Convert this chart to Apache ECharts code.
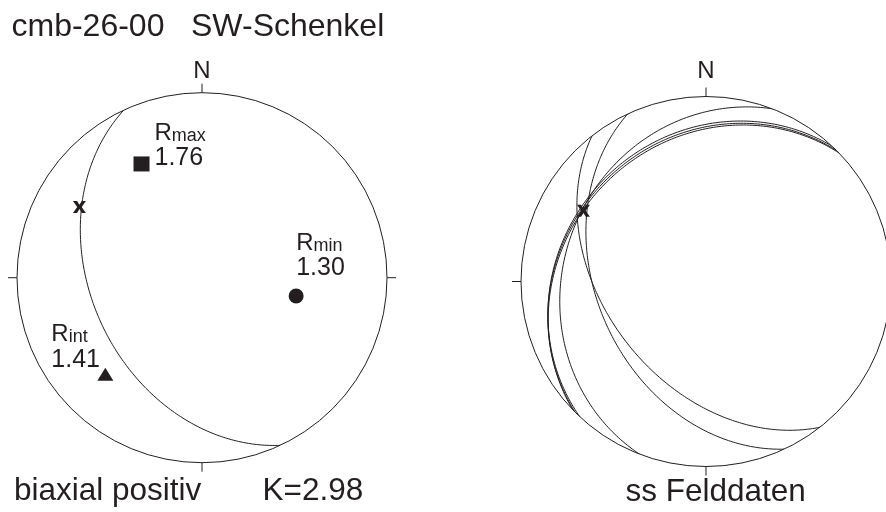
<!DOCTYPE html>
<html><head><meta charset="utf-8">
<script src="https://cdn.jsdelivr.net/npm/echarts@6/dist/echarts.min.js"></script>
<style>html,body{margin:0;padding:0;background:#fff}#c{width:886px;height:512px}</style>
</head><body><div id="c"></div>
<script>
// ---------------- data ----------------
const titleLeft = 'cmb-26-00';
const titleRight = 'SW-Schenkel';
const northLabel = 'N';
const leftCaption = 'biaxial positiv';
const kLabel = 'K=2.98';
const rightCaption = 'ss Felddaten';

// principal axes (left net): subscript, value, trend, plunge
const axisSubs = ['max', 'int', 'min'];
const axisValues = ['1.76', '1.41', '1.30'];
const axisTrend = [332, 225, 101];
const axisPlunge = [31, 27, 47];

// fold axis (x) shown in both nets
const foldTrend = [300];
const foldPlunge = [24.5];

// great circle on the left net (dip direction / dip)
const leftPlaneDipDir = [245];
const leftPlaneDip = [40];

// ss field data (right net): dip direction / dip
const ssDipDir = [232, 245, 291, 313, 315, 316];
const ssDip = [45, 41, 24, 23, 24, 25];

// ---------------- projection helpers (lower hemisphere, equal area) ----------------
const D = Math.PI / 180;
function radiusOf(plunge) { return Math.SQRT2 * Math.sin((90 - plunge) / 2 * D); }
function greatCircle(dipDir, dip) {
  const st = (dipDir - 90) * D, dd = dipDir * D, dp = dip * D;
  const s = [Math.cos(st), Math.sin(st), 0];
  const d = [Math.cos(dp) * Math.cos(dd), Math.cos(dp) * Math.sin(dd), Math.sin(dp)];
  const pts = [];
  for (let t = 0; t <= 180; t += 1) {
    const c = Math.cos(t * D), si = Math.sin(t * D);
    const v = [c * s[0] + si * d[0], c * s[1] + si * d[1], c * s[2] + si * d[2]];
    const pl = Math.asin(Math.max(-1, Math.min(1, v[2]))) / D;
    let tr = Math.atan2(v[1], v[0]) / D; if (tr < 0) tr += 360;
    pts.push([radiusOf(pl), tr]);
  }
  return pts;
}

// ---------------- styles ----------------
const INK = '#231f20';
const FONT = '"Liberation Sans", Arial, Helvetica, sans-serif';
const markerStyles = [
  { symbol: 'rect', symbolSize: [16, 15], offset: [13, -19] },
  { symbol: 'triangle', symbolSize: [16, 13], offset: [-54, -28] },
  { symbol: 'circle', symbolSize: 15, offset: [0, -41] }
];
const crossPath = 'path://M0,0L3.2,0L5,3.2L6.8,0L10,0L6.7,5L10,10L6.8,10L5,6.8L3.2,10L0,10L3.3,5Z';

function angleAxis(idx, margin) {
  return {
    polarIndex: idx, type: 'value', min: 0, max: 360, interval: 90,
    startAngle: 90, clockwise: true,
    axisLine: { show: true, lineStyle: { color: INK, width: 1 } },
    axisTick: { show: true, inside: false, length: 9, lineStyle: { color: INK, width: 1 } },
    axisLabel: { show: true, margin: margin, fontFamily: FONT, fontSize: 24, color: INK,
      formatter: v => (v === 0 ? northLabel : '') },
    splitLine: { show: false }
  };
}
function radiusAxis(idx) {
  return { polarIndex: idx, type: 'value', min: 0, max: 1, show: false,
    splitLine: { show: false }, axisLine: { show: false }, axisLabel: { show: false }, axisTick: { show: false } };
}
function lineSeries(idx, dipDirs, dips) {
  return dipDirs.map((dd, i) => ({
    type: 'line', coordinateSystem: 'polar', polarIndex: idx,
    data: greatCircle(dd, dips[i]), symbol: 'none', smooth: false, silent: true,
    lineStyle: { color: INK, width: 1 }, z: 2
  }));
}
function foldSeries(idx) {
  return {
    type: 'scatter', coordinateSystem: 'polar', polarIndex: idx, silent: true,
    symbol: crossPath, symbolSize: [13, 12], itemStyle: { color: INK, opacity: 1 }, z: 5,
    data: foldTrend.map((t, i) => [radiusOf(foldPlunge[i]), t])
  };
}

const axisData = axisTrend.map((t, i) => ({
  value: [radiusOf(axisPlunge[i]), t],
  symbol: markerStyles[i].symbol,
  symbolSize: markerStyles[i].symbolSize,
  label: {
    show: true, position: 'inside', align: 'left', verticalAlign: 'middle',
    offset: markerStyles[i].offset,
    formatter: '{r|R}{s|' + axisSubs[i] + '}\n{n|' + axisValues[i] + '}',
    rich: {
      r: { fontFamily: FONT, fontSize: 24, lineHeight: 27, color: INK, verticalAlign: 'bottom' },
      s: { fontFamily: FONT, fontSize: 18, lineHeight: 23, color: INK, verticalAlign: 'bottom' },
      n: { fontFamily: FONT, fontSize: 25, lineHeight: 27, color: INK }
    }
  }
}));

function gtext(str, x, y, size) {
  return { type: 'text', x: x, y: y, silent: true,
    style: { text: str, font: size + 'px ' + FONT, fill: INK, textAlign: 'left', align: 'left',
      textVerticalAlign: 'middle', verticalAlign: 'middle' } };
}

const option = {
  backgroundColor: '#ffffff',
  animation: false,
  polar: [
    { center: [202, 277.7], radius: 185 },
    { center: [706, 281.5], radius: 185 }
  ],
  angleAxis: [angleAxis(0, 9), angleAxis(1, 13)],
  radiusAxis: [radiusAxis(0), radiusAxis(1)],
  series: [
    ...lineSeries(0, leftPlaneDipDir, leftPlaneDip),
    ...lineSeries(1, ssDipDir, ssDip),
    foldSeries(0), foldSeries(1),
    { type: 'scatter', coordinateSystem: 'polar', polarIndex: 0, silent: true,
      itemStyle: { color: INK, opacity: 1 }, z: 4, data: axisData }
  ],
  graphic: [
    gtext(titleLeft, 11.5, 27.5, 32),
    gtext(titleRight, 191, 27.5, 32),
    gtext(leftCaption, 14, 491, 31.5),
    gtext(kLabel, 262.5, 491, 31.5),
    gtext(rightCaption, 625.5, 492, 31.5)
  ]
};

const chart = echarts.init(document.getElementById('c'), null, { renderer: 'canvas' });
chart.setOption(option);
</script>
</body></html>
